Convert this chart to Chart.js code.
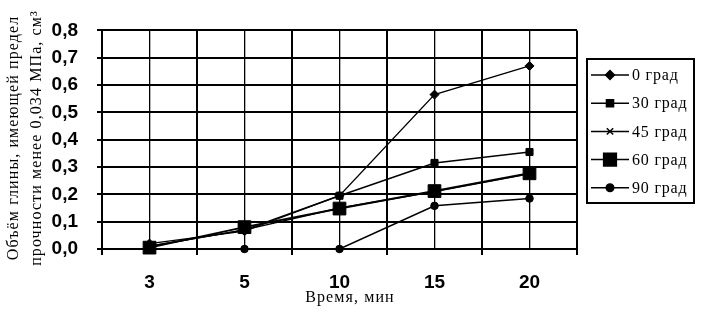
<!DOCTYPE html>
<html>
<head>
<meta charset="utf-8">
<script src="https://cdn.jsdelivr.net/npm/chart.js@4.4.0/dist/chart.umd.min.js"></script>
<style>
    html, body { margin: 0; padding: 0; background: #fff; }
</style>
</head>
<body>
<canvas id="clayVolume" width="712" height="312"></canvas>
<script>
    // DATA

    var minutes = ['3', '5', '10', '15', '20'];
    var seriesNames = ['0 град', '30 град', '45 град', '60 град', '90 град'];
    var deg0 = [0.02, 0.065, 0.195, 0.565, 0.67];
    var deg30 = [0.01, 0.07, 0.195, 0.315, 0.355];
    var deg45 = [0.01, 0.07, 0.15, 0.21, 0.275];
    var deg60 = [0.005, 0.08, 0.148, 0.212, 0.277];
    var deg90 = [0, 0, 0, 0.158, 0.185];
    var yMin = 0;
    var yMax = 0.8;
    var yStep = 0.1;
    var yTitle = ['Объём глины, имеющей предел', 'прочности менее 0,034 МПа, см³'];
    var xTitle = 'Время, мин';

    function series(label, data, style, radius, width, pointWidth) {
        return {
            label: label,
            data: data,
            borderColor: '#000',
            backgroundColor: '#000',
            borderWidth: width,
            pointStyle: style,
            pointRadius: radius,
            pointHoverRadius: radius,
            pointBorderWidth: pointWidth,
            pointBackgroundColor: '#000',
            pointBorderColor: '#000',
            lineTension: 0,
            clip: 12
        };
    }

    // axis titles and the boxed key on the right
    var extras = {
        id: 'extras',
        afterDraw: function (chart) {
            var ctx = chart.ctx;
            ctx.save();
            ctx.fillStyle = '#000';
            ctx.strokeStyle = '#000';
            ctx.textAlign = 'center';
            ctx.textBaseline = 'middle';
            ctx.font = '16px "Liberation Serif"';
            ctx.letterSpacing = '1.1px';

            ctx.save();
            ctx.translate(14, 138);
            ctx.rotate(-Math.PI / 2);
            ctx.fillText(yTitle[0], 0, 0);
            ctx.fillText(yTitle[1], 0, 23);
            ctx.restore();

            ctx.fillText(xTitle, 350, 298);

            // key
            ctx.lineWidth = 2;
            ctx.strokeRect(587, 59, 107, 144);
            ctx.textAlign = 'left';
            ctx.letterSpacing = '0.8px';
            chart.data.datasets.forEach(function (ds, i) {
                var y = 75 + i * 28.2;
                ctx.lineWidth = 1.5;
                ctx.beginPath();
                ctx.moveTo(591, y);
                ctx.lineTo(629, y);
                ctx.stroke();
                Chart.helpers.drawPoint(ctx, {
                    pointStyle: ds.pointStyle,
                    radius: ds.pointRadius,
                    rotation: 0,
                    borderWidth: ds.pointBorderWidth
                }, 610, y);
                ctx.fillText(ds.label, 632, y + 1);
            });
            ctx.restore();
        }
    };

    var ctx = document.getElementById('clayVolume').getContext('2d');
    var chart = new Chart(ctx, {
        type: 'line',
        data: {
            labels: minutes,
            datasets: [
                series(seriesNames[0], deg0, 'rectRot', 4.5, 1.3, 1),
                series(seriesNames[1], deg30, 'rect', 5, 1.5, 1),
                series(seriesNames[2], deg45, 'crossRot', 4.5, 1.5, 1.5),
                series(seriesNames[3], deg60, 'rect', 9, 2, 1),
                series(seriesNames[4], deg90, 'circle', 3.8, 1.5, 1)
            ]
        },
        options: {
            responsive: false,
            animation: false,
            events: [],
            layout: {
                padding: { top: 23, right: 135, left: 0, bottom: 0 }
            },
            plugins: {
                legend: { display: false },
                tooltip: { enabled: false }
            },
            scales: {
                x: {
                    type: 'category',
                    position: 'bottom',
                    offset: true,
                    grid: {
                        offset: true,
                        color: '#000',
                        lineWidth: 2,
                        tickLength: 6,
                        tickColor: '#000'
                    },
                    border: { display: true, color: '#000', width: 2 },
                    ticks: {
                        color: '#000',
                        padding: 16,
                        font: { family: '"Liberation Sans", Arial', size: 19, weight: 'bold' }
                    },
                    afterFit: function (scale) { scale.height = 63; }
                },
                xMid: {
                    type: 'category',
                    position: 'bottom',
                    offset: true,
                    grid: {
                        offset: false,
                        color: '#000',
                        lineWidth: 1.3,
                        drawTicks: false
                    },
                    border: { display: false },
                    ticks: { display: false },
                    afterFit: function (scale) { scale.height = 0; }
                },
                y: {
                    min: yMin,
                    max: yMax,
                    ticks: {
                        stepSize: yStep,
                        color: '#000',
                        padding: 19,
                        font: { family: '"Liberation Sans", Arial', size: 19, weight: 'bold' },
                        callback: function (v) { return v.toFixed(1).replace('.', ','); }
                    },
                    grid: {
                        color: '#000',
                        lineWidth: 2,
                        tickLength: 5,
                        tickColor: '#000'
                    },
                    border: { display: true, color: '#000', width: 2 },
                    afterFit: function (scale) { scale.width = 102; }
                }
            }
        },
        plugins: [extras]
    });
</script>
</body>
</html>
